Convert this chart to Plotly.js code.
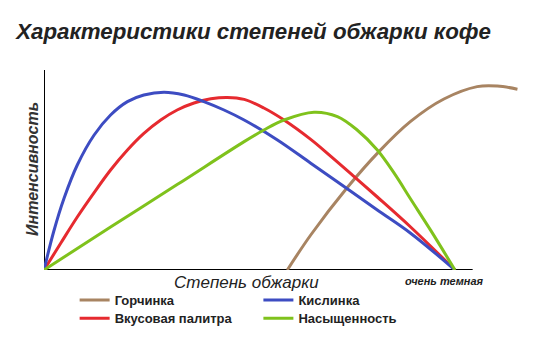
<!DOCTYPE html>
<html><head><meta charset="utf-8">
<script src="https://cdn.plot.ly/plotly-3.0.1.min.js"></script>
<style>html,body{margin:0;padding:0;background:#fff}#chart{width:538px;height:339px}</style>
</head><body><div id="chart"></div>
<script>
// Roast degree (0 = light ... 100 = very dark), intensity 0..100
const bitterX = [59.2, 64.9, 73.7, 81.5, 89.2, 97.3, 105.4, 110.3, 115.2];
const bitterY = [0, 17.5, 41, 59.2, 74.3, 85.5, 91.7, 92, 90.4];
const acidX = [0, 2.4, 4.9, 8.1, 12.2, 16.2, 20.3, 24.3, 29.2, 34.1, 38.9, 43.8, 48.7, 56.8, 64.9, 73, 81.1, 89.2, 100];
const acidY = [0, 19.5, 36, 52.5, 67.5, 77.5, 84.2, 87.5, 88.9, 87.5, 84.2, 80, 75, 65, 53.4, 41.7, 30, 18.4, 0];
const flavorX = [0, 4.1, 8.1, 12.2, 16.2, 20.3, 24.3, 28.4, 32.4, 36.5, 40.6, 44.6, 48.7, 53.5, 58.4, 64.9, 69.8, 75.4, 81.1, 89.2, 100];
const flavorY = [0, 13.5, 26.5, 38.7, 50, 60, 68.3, 75, 80, 83.5, 85.6, 86.3, 85.3, 81, 75, 65.3, 56.8, 46.8, 36.5, 21.5, 0];
const bodyX = [0, 16.2, 32.4, 48.7, 53.5, 58.4, 65.7, 71.4, 76.2, 81.1, 85.2, 89.2, 94.1, 100];
const bodyY = [0, 21.5, 42.7, 64.2, 70, 75, 78.9, 76.7, 70, 60, 48.4, 35.5, 19.8, 0];
const names = ['Горчинка', 'Кислинка', 'Вкусовая палитра', 'Насыщенность'];
const colors = ['#a88462', '#3d4cc2', '#e62a2f', '#7fc21c'];

const traces = [
  {x: bitterX, y: bitterY, name: names[0], line: {color: colors[0]}, legend: 'legend'},
  {x: flavorX, y: flavorY, name: names[2], line: {color: colors[2]}, legend: 'legend2'},
  {x: acidX, y: acidY, name: names[1], line: {color: colors[1]}, legend: 'legend3'},
  {x: bodyX, y: bodyY, name: names[3], line: {color: colors[3]}, legend: 'legend4'}
].map(t => Object.assign({type: 'scatter', mode: 'lines', cliponaxis: false, hoverinfo: 'skip'}, t, {
  line: Object.assign({width: 3, shape: 'spline', smoothing: 1}, t.line)
}));

const legFont = {family: 'Liberation Sans, Arial, sans-serif', size: 13, color: '#222', weight: 'bold'};
function leg(x, y) {
  return {x: x, xanchor: 'left', y: y, yanchor: 'top', font: legFont, bgcolor: 'rgba(0,0,0,0)', itemwidth: 30};
}
const layout = {
  width: 538, height: 339,
  margin: {l: 44, r: 0, t: 70, b: 69},
  paper_bgcolor: '#fff', plot_bgcolor: '#fff',
  showlegend: true,
  title: {text: 'Характеристики степеней обжарки кофе', x: 0.03, xanchor: 'left', y: 0.885, yanchor: 'bottom',
    font: {family: 'Liberation Sans, Arial, sans-serif', size: 22.3, color: '#222', weight: 'bold', style: 'italic'}},
  xaxis: {range: [0, 120.2], visible: false, fixedrange: true},
  yaxis: {range: [0, 100], visible: false, fixedrange: true},
  legend: leg(0.062, -0.075),
  legend2: leg(0.062, -0.167),
  legend3: leg(0.434, -0.075),
  legend4: leg(0.434, -0.167),
  shapes: [
    {type: 'line', xref: 'x', yref: 'y', x0: 0, x1: 104.3, y0: 0, y1: 0, line: {color: '#000', width: 2}, layer: 'below'},
    {type: 'line', xref: 'x', yref: 'y', x0: 0, x1: 0, y0: 0, y1: 100, line: {color: '#000', width: 2}, layer: 'below'}
  ],
  annotations: [
    {text: 'Степень обжарки', xref: 'paper', yref: 'paper', x: (246 - 44) / 494, y: -0.062, xanchor: 'center', yanchor: 'middle',
      showarrow: false, font: {family: 'Liberation Sans, Arial, sans-serif', size: 17, color: '#222', style: 'italic'}},
    {text: 'очень темная', xref: 'paper', yref: 'paper', x: (444 - 44) / 494, y: -0.055, xanchor: 'center', yanchor: 'middle',
      showarrow: false, font: {family: 'Liberation Sans, Arial, sans-serif', size: 11, color: '#222', style: 'italic', weight: 'bold'}},
    {text: 'Интенсивность', xref: 'paper', yref: 'paper', x: (32 - 44) / 494, y: (270 - 169) / 200, xanchor: 'center', yanchor: 'middle',
      textangle: -90, showarrow: false, font: {family: 'Liberation Sans, Arial, sans-serif', size: 16, color: '#333', style: 'italic', weight: 'bold'}}
  ]
};
Plotly.newPlot('chart', traces, layout, {displayModeBar: false, staticPlot: true});
</script></body></html>
